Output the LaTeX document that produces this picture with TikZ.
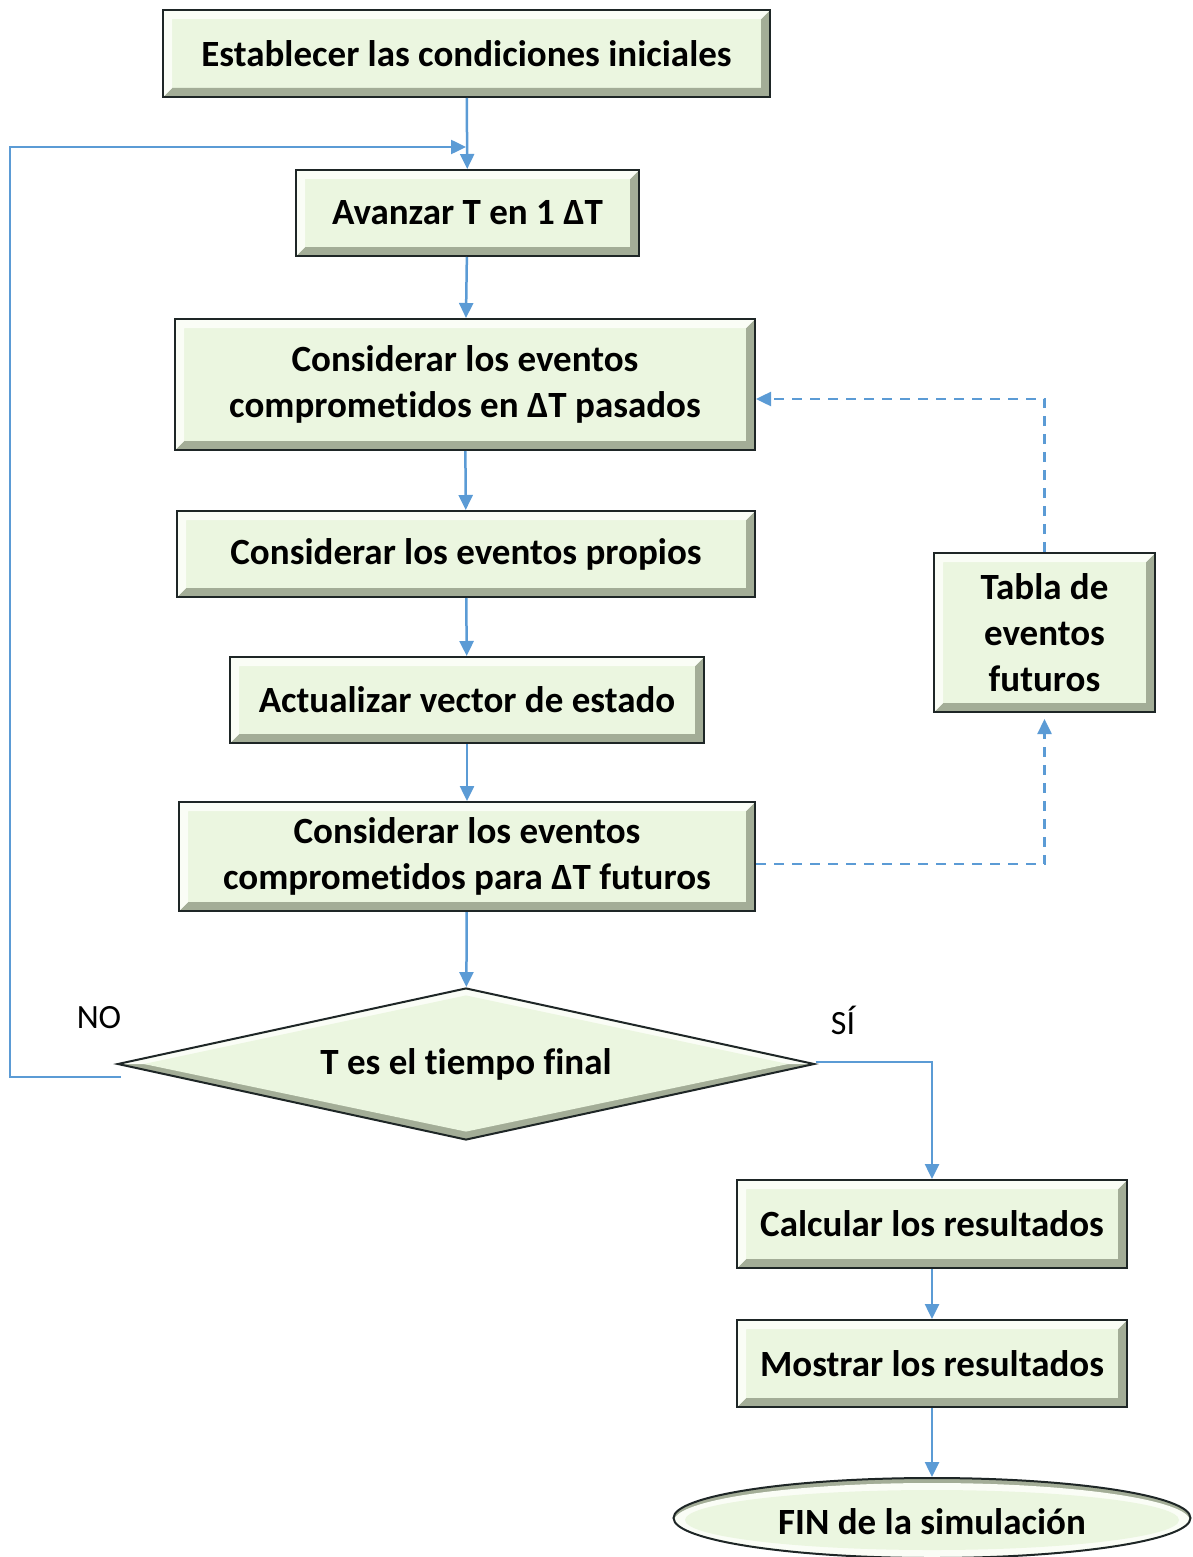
\documentclass[tikz,border=0pt]{standalone}
\usepackage{fontspec}
\setmainfont{Carlito}[Ligatures=NoCommon]
\usetikzlibrary{shapes.geometric,arrows.meta,calc}
\definecolor{boxfill}{HTML}{EBF6E0}
\definecolor{bevdark}{HTML}{A3AD97}
\definecolor{bevlight}{HTML}{FAFDF6}
\definecolor{edgec}{HTML}{1E2626}
\definecolor{flowc}{HTML}{5B9BD5}
\begin{document}
\begin{tikzpicture}[x=1pt,y=-1pt,
  txt/.style={font=\bfseries\fontsize{37}{46}\selectfont, align=center, text=black},
  rectbevel/.style={path picture={
    \path (path picture bounding box.south west) coordinate (ppsw)
          (path picture bounding box.north east) coordinate (ppne)
          (path picture bounding box.south east) coordinate (ppse)
          (path picture bounding box.north west) coordinate (ppnw);
    \fill[bevdark] (ppsw) -- (ppse) -- (ppne) -- ([shift={(-9pt,-9pt)}]ppne) -- ([shift={(-9pt,9pt)}]ppse) -- ([shift={(9pt,9pt)}]ppsw) -- cycle;
    \fill[bevlight] (ppsw) -- ([shift={(9pt,9pt)}]ppsw) -- ([shift={(9pt,-9pt)}]ppnw) -- ([shift={(-9pt,-9pt)}]ppne) -- (ppne) -- (ppnw) -- cycle;
  }},
  stepbox/.style={txt, draw=edgec, line width=2pt, fill=boxfill, inner sep=0pt, rectbevel},
  flow/.style={draw=flowc, line width=2.5pt, -{Triangle[length=15pt,width=14pt]}},
  dflow/.style={flow, dash pattern=on 10pt off 8pt},
  lab/.style={font=\fontsize{34}{40}\selectfont, text=black}
]
\useasboundingbox (0,0) rectangle (1193,1557);

\node[stepbox, minimum width=607pt, minimum height=87pt] (ini) at (466.5,53.5) {Establecer las condiciones iniciales};
\node[stepbox, minimum width=343pt, minimum height=86pt] (avz) at (467.5,213) {Avanzar T en 1 ΔT};
\node[stepbox, minimum width=580pt, minimum height=131pt] (pas) at (465,384.5) {Considerar los eventos\\comprometidos en ΔT pasados};
\node[stepbox, minimum width=578pt, minimum height=86pt] (pro) at (466,554) {Considerar los eventos propios};
\node[stepbox, minimum width=474pt, minimum height=86pt] (act) at (467,700) {Actualizar vector de estado};
\node[stepbox, minimum width=576pt, minimum height=109pt] (fut) at (467,856.5) {Considerar los eventos\\comprometidos para ΔT futuros};
\node[stepbox, minimum width=221pt, minimum height=159pt] (tab) at (1044.5,632.5) {Tabla de\\eventos\\futuros};

\node[txt, diamond, aspect=4.59, draw=edgec, line width=2pt, fill=boxfill, minimum width=697pt, minimum height=152pt, inner sep=0pt,
  path picture={
    \fill[bevdark] (path picture bounding box.west) -- (path picture bounding box.south) -- (path picture bounding box.east) -- cycle;
    \fill[bevlight] (path picture bounding box.west) -- (path picture bounding box.north) -- (path picture bounding box.east) -- cycle;
    \fill[boxfill] ([xshift=26pt]path picture bounding box.west) -- ([yshift=-7pt]path picture bounding box.north) -- ([xshift=-26pt]path picture bounding box.east) -- ([yshift=8pt]path picture bounding box.south) -- cycle;
  }] (dia) at (466,1064) {T es el tiempo final};

\node[stepbox, minimum width=390pt, minimum height=88pt] (cal) at (932,1224) {Calcular los resultados};
\node[stepbox, minimum width=390pt, minimum height=87pt] (mos) at (932,1363.5) {Mostrar los resultados};

\node[txt, ellipse, draw=edgec, line width=2pt, fill=boxfill, minimum width=517pt, minimum height=80pt, inner sep=0pt,
  path picture={
    \fill[bevdark] (path picture bounding box.center) ellipse (260pt and 40pt);
    \fill[bevlight] ([yshift=-3pt]path picture bounding box.center) ellipse (258pt and 38pt);
    \fill[boxfill] ([yshift=-2pt]path picture bounding box.center) ellipse (247pt and 30pt);
  }] (fin) at (932,1518) {\raisebox{-7pt}[26pt][8pt]{FIN de la simulación}};

\node[lab] (nolab) at (99,1018) {NO};
\node[lab] (silab) at (843,1020) {SÍ};

\coordinate (loopin) at (466,147);
\coordinate (loopcorner) at (10,1077);

\draw[flow] (ini) -- (avz);
\draw[flow] (avz) -- (pas);
\draw[flow] (pas) -- (pro);
\draw[flow] (pro) -- (act);
\draw[flow] (act) -- (fut);
\draw[flow] (fut) -- (dia);
\draw[flow] ([yshift=-13pt,xshift=4pt]dia.west) -- (loopcorner) |- (loopin);
\draw[flow] ([yshift=2pt]dia.east) -| (cal.north);
\draw[flow] (cal) -- (mos);
\draw[flow] (mos) -- (fin);
\draw[dflow] (tab.north) |- ([yshift=-14.5pt]pas.east);
\draw[dflow] ([yshift=-7.5pt]fut.east) -| ([yshift=-6pt]tab.south);
\end{tikzpicture}
\end{document}
